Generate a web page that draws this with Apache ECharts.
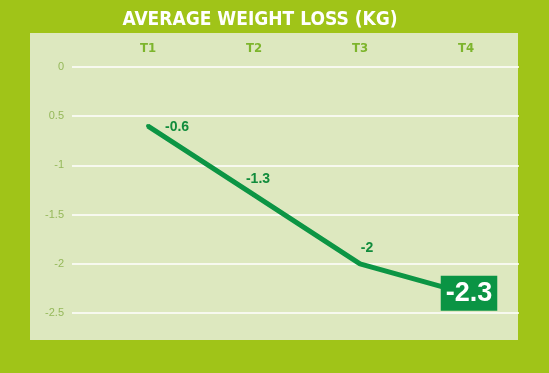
<!DOCTYPE html>
<html><head><meta charset="utf-8">
<script src="https://cdn.jsdelivr.net/npm/echarts@6/dist/echarts.min.js"></script>
<style>html,body{margin:0;padding:0;background:#a0c418;}#c{width:549px;height:373px;}</style>
</head><body><div id="c"></div>
<script>
var categories = ["T1", "T2", "T3", "T4"];
var values = [-0.6, -1.3, -2, -2.3];
var yTicks = [0, -0.5, -1, -1.5, -2, -2.5];
var yTickLabels = ["0", "0.5", "-1", "-1.5", "-2", "-2.5"];
var titleText = "AVERAGE WEIGHT LOSS (KG)";

var chart = echarts.init(document.getElementById('c'));
var dataLabel = [
  {position: 'right', distance: 15, offset: [0, 1]},
  {position: 'top', distance: 7, offset: [4, 0]},
  {position: 'top', distance: 7, offset: [7, 0]},
  {position: 'inside', fontSize: 27, color: '#ffffff', backgroundColor: '#0a9444', padding: [5, 5, 3, 5], offset: [3, 0]}
];
chart.setOption({
  backgroundColor: '#a0c418',
  animation: false,
  title: {text: titleText, left: 255, top: 6, textAlign: 'center',
    textStyle: {color: '#ffffff', fontSize: 19, fontWeight: 'bold', fontFamily: 'Liberation Sans Narrow, DejaVu Sans Condensed, sans-serif'}},
  graphic: [{type: 'rect', z: -10, shape: {x: 30, y: 33, width: 488, height: 307}, style: {fill: '#dde8bf'}}],
  grid: [
    {left: 72, right: 30, top: 67, bottom: 60},
    {left: 95, right: 30, top: 67, bottom: 60}
  ],
  xAxis: [
    {gridIndex: 0, type: 'value', show: false, min: 0, max: 1},
    {gridIndex: 1, type: 'category', position: 'top', data: categories, boundaryGap: true,
      axisLine: {show: false}, axisTick: {show: false},
      axisLabel: {margin: 12, color: '#7db52c', fontWeight: 'bold', fontSize: 13, fontFamily: 'Liberation Sans Narrow, DejaVu Sans Condensed, sans-serif'}}
  ],
  yAxis: [
    {gridIndex: 0, type: 'value', min: -2.5, max: 0, interval: 0.5,
      axisLine: {show: false}, axisTick: {show: false},
      splitLine: {lineStyle: {color: '#ffffff', width: 1.5}},
      axisLabel: {margin: 8, color: '#95b85a', fontSize: 11, fontFamily: 'Liberation Sans Narrow, sans-serif',
        formatter: function (v) { var i = yTicks.findIndex(function (t) { return Math.abs(t - v) < 1e-6; }); return i >= 0 ? yTickLabels[i] : ''; }}},
    {gridIndex: 1, type: 'value', min: -2.5, max: 0, show: false}
  ],
  series: [{
    type: 'line', xAxisIndex: 1, yAxisIndex: 1,
    data: values.map(function (v, i) { return {value: v, label: dataLabel[i]}; }),
    symbol: 'circle', symbolSize: 4, showSymbol: true,
    itemStyle: {color: '#0c9544'},
    lineStyle: {color: '#0c9544', width: 5},
    label: {show: true, color: '#118c3c', fontWeight: 'bold', fontSize: 14, fontFamily: 'Liberation Sans, sans-serif'}
  }]
});
</script></body></html>
